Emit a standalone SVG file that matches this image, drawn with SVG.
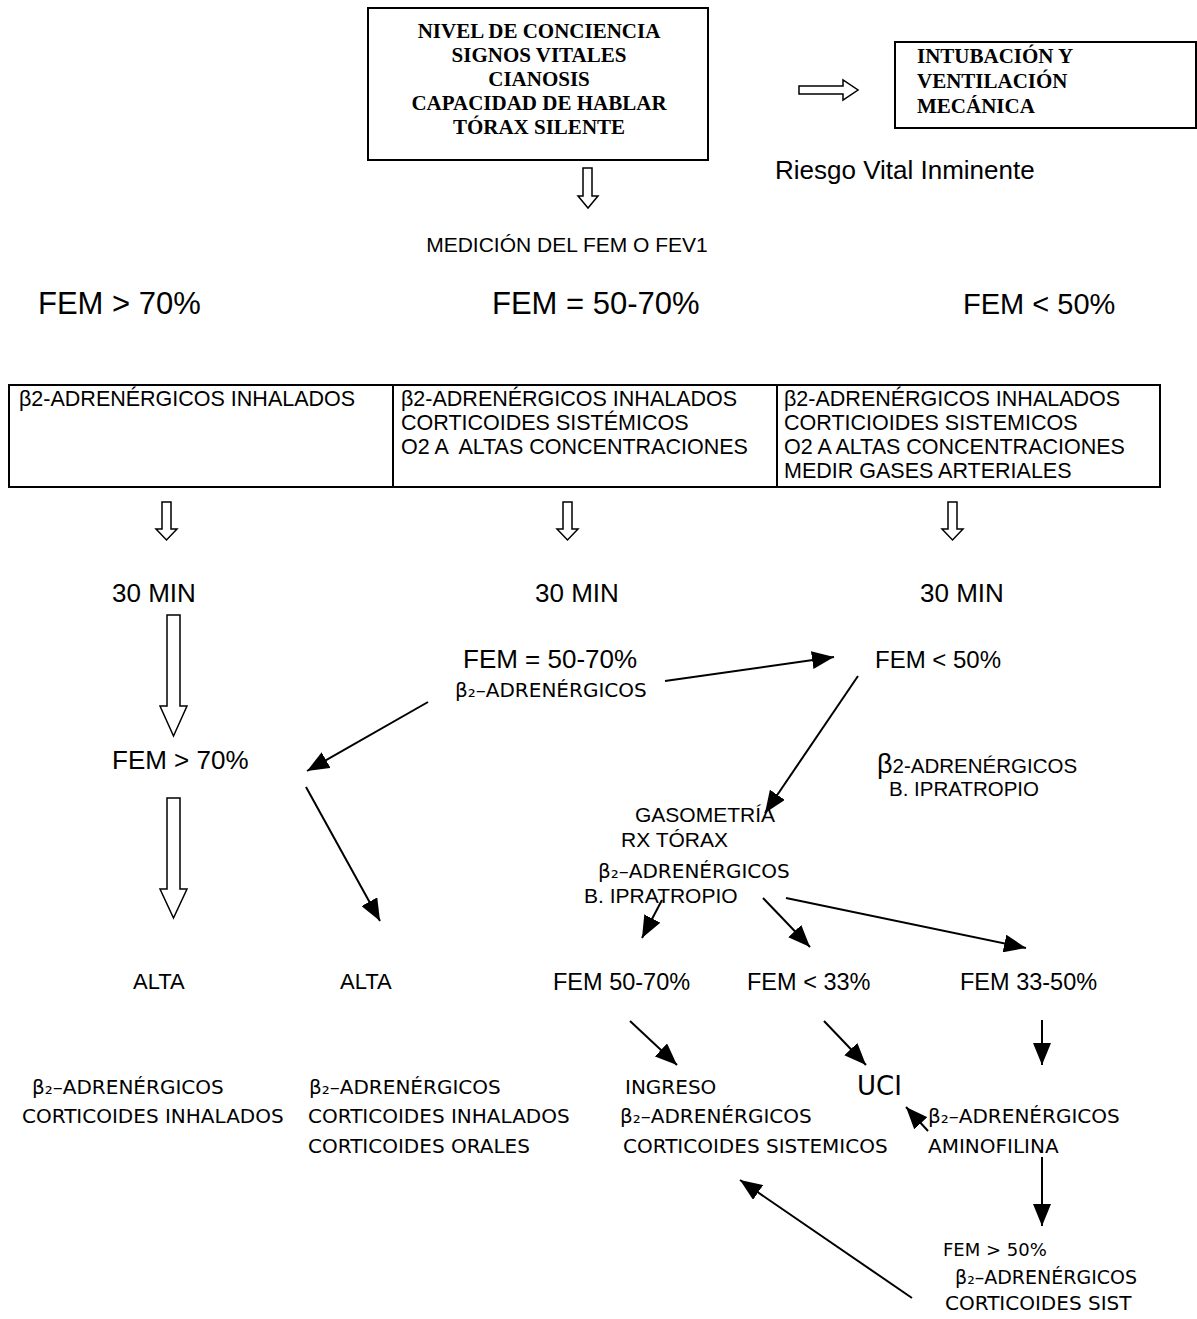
<svg xmlns="http://www.w3.org/2000/svg" width="1197" height="1319" viewBox="0 0 1197 1319">
<style>
.tb{font-family:"Liberation Serif",serif;font-weight:bold;font-size:21px;fill:#000}
.a{font-family:"Liberation Sans",Arial,sans-serif;fill:#000}
.l{font-family:"DejaVu Sans",sans-serif;fill:#000;font-size:20px}
.box{fill:none;stroke:#000;stroke-width:2}
.ho{fill:#fff;stroke:#000;stroke-width:1.5}
.cn line{stroke:#000;stroke-width:2}
</style>
<defs>
<marker id="ah" markerUnits="userSpaceOnUse" markerWidth="22" markerHeight="18" refX="22" refY="9" orient="auto">
<path d="M0,0 L22,9 L0,18 z" fill="#000"/>
</marker>
</defs>

<g id="n-eval">
<rect class="box" x="368" y="8" width="340" height="152"/>
<text class="tb" text-anchor="middle" x="539" y="38">NIVEL DE CONCIENCIA</text>
<text class="tb" text-anchor="middle" x="539" y="62">SIGNOS VITALES</text>
<text class="tb" text-anchor="middle" x="539" y="86">CIANOSIS</text>
<text class="tb" text-anchor="middle" x="539" y="110">CAPACIDAD DE HABLAR</text>
<text class="tb" text-anchor="middle" x="539" y="134">TÓRAX SILENTE</text>
</g>

<g id="n-intub">
<rect class="box" x="895" y="42" width="301" height="86"/>
<text class="tb" x="917" y="63">INTUBACIÓN Y</text>
<text class="tb" x="917" y="88">VENTILACIÓN</text>
<text class="tb" x="917" y="113">MECÁNICA</text>
</g>

<g id="n-riesgo"><text class="a" font-size="26" x="775" y="179">Riesgo Vital Inminente</text></g>
<g id="n-medicion"><text class="a" font-size="21" text-anchor="middle" x="567" y="252">MEDICIÓN DEL FEM O FEV1</text></g>

<g id="n-fem70"><text class="a" font-size="31" x="38" y="314">FEM &gt; 70%</text></g>
<g id="n-fem5070"><text class="a" font-size="31" x="492" y="314">FEM = 50-70%</text></g>
<g id="n-fem50"><text class="a" font-size="29" x="963" y="314">FEM &lt; 50%</text></g>

<g id="n-table" font-size="21.5" class="a">
<rect class="box" x="9" y="385" width="1151" height="102"/>
<line x1="393" y1="385" x2="393" y2="487" stroke="#000" stroke-width="2"/>
<line x1="777" y1="385" x2="777" y2="487" stroke="#000" stroke-width="2"/>
<text class="a" x="19" y="406">β2-ADRENÉRGICOS INHALADOS</text>
<text class="a" x="401" y="406">β2-ADRENÉRGICOS INHALADOS</text>
<text class="a" x="401" y="430">CORTICOIDES SISTÉMICOS</text>
<text class="a" x="401" y="454" xml:space="preserve">O2 A  ALTAS CONCENTRACIONES</text>
<text class="a" x="784" y="406">β2-ADRENÉRGICOS INHALADOS</text>
<text class="a" x="784" y="430">CORTICIOIDES SISTEMICOS</text>
<text class="a" x="784" y="454">O2 A ALTAS CONCENTRACIONES</text>
<text class="a" x="784" y="478">MEDIR GASES ARTERIALES</text>
</g>

<g id="n-30a"><text class="a" font-size="26" x="112" y="602">30 MIN</text></g>
<g id="n-30b"><text class="a" font-size="26" x="535" y="602">30 MIN</text></g>
<g id="n-30c"><text class="a" font-size="26" x="920" y="602">30 MIN</text></g>

<g id="n-fem5070b">
<text class="a" font-size="26" x="463" y="668">FEM = 50-70%</text>
<text class="l" x="455" y="697">β₂–ADRENÉRGICOS</text>
</g>
<g id="n-fem50b">
<text class="a" font-size="24" x="875" y="668">FEM &lt; 50%</text>
<text class="a" font-size="20.5" x="877" y="773"><tspan font-size="27">β</tspan>2-ADRENÉRGICOS</text>
<text class="a" font-size="20.5" x="889" y="796">B. IPRATROPIO</text>
</g>
<g id="n-fem70b"><text class="a" font-size="26" x="112" y="769">FEM &gt; 70%</text></g>

<g id="n-gaso">
<text class="a" font-size="21" x="635" y="822">GASOMETRÍA</text>
<text class="a" font-size="21" x="621" y="847">RX TÓRAX</text>
<text class="l" x="598" y="878">β₂–ADRENÉRGICOS</text>
<text class="a" font-size="21" x="584" y="903">B. IPRATROPIO</text>
</g>

<g id="n-alta1"><text class="a" font-size="22" x="133" y="989">ALTA</text></g>
<g id="n-alta2"><text class="a" font-size="22" x="340" y="989">ALTA</text></g>
<g id="n-f5070c"><text class="a" font-size="23.5" x="553" y="990">FEM 50-70%</text></g>
<g id="n-f33"><text class="a" font-size="23.5" x="747" y="990">FEM &lt; 33%</text></g>
<g id="n-f3350"><text class="a" font-size="23.5" x="960" y="990">FEM 33-50%</text></g>

<g id="n-b1">
<text class="l" x="32" y="1094">β₂–ADRENÉRGICOS</text>
<text class="l" x="22" y="1123">CORTICOIDES INHALADOS</text>
</g>
<g id="n-b2">
<text class="l" x="309" y="1094">β₂–ADRENÉRGICOS</text>
<text class="l" x="308" y="1123">CORTICOIDES INHALADOS</text>
<text class="l" x="308" y="1153">CORTICOIDES ORALES</text>
</g>
<g id="n-ingreso">
<text class="l" x="625" y="1094">INGRESO</text>
<text class="l" x="620" y="1123">β₂–ADRENÉRGICOS</text>
<text class="l" x="623" y="1153">CORTICOIDES SISTEMICOS</text>
</g>
<g id="n-uci"><text class="l" style="font-size:26px" x="857" y="1095">UCI</text></g>
<g id="n-amino">
<text class="l" x="928" y="1123">β₂–ADRENÉRGICOS</text>
<text class="l" x="928" y="1153">AMINOFILINA</text>
</g>
<g id="n-fem50up">
<text class="l" style="font-size:18px" x="943" y="1256">FEM &gt; 50%</text>
<text class="l" style="font-size:19px" x="955" y="1284">β₂–ADRENÉRGICOS</text>
<text class="l" x="945" y="1310">CORTICOIDES SIST</text>
</g>

<g id="connectors">
<g id="hollow">
<polygon class="ho" points="799,86 843,86 843,80 858,90 843,100 843,94 799,94"/>
<polygon class="ho" points="583,168 592,168 592,196 598,196 588,208 578,196 583,196"/>
<polygon class="ho" points="162,502 171,502 171,529 177,529 166.5,540 156,529 162,529"/>
<polygon class="ho" points="563,502 572,502 572,529 578,529 567.5,540 557,529 563,529"/>
<polygon class="ho" points="948,502 957,502 957,529 963,529 952.5,540 942,529 948,529"/>
<polygon class="ho" points="167,615 180,615 180,706 187,706 173.5,736 160,706 167,706"/>
<polygon class="ho" points="167,798 180,798 180,889 187,889 173.5,918 160,889 167,889"/>
</g>
<g class="cn">
<line x1="665" y1="681" x2="834" y2="657" marker-end="url(#ah)"/>
<line x1="428" y1="702" x2="307" y2="771" marker-end="url(#ah)"/>
<line x1="306" y1="787" x2="380" y2="921" marker-end="url(#ah)"/>
<line x1="858" y1="676" x2="765" y2="813" marker-end="url(#ah)"/>
<line x1="662" y1="900" x2="642" y2="938" marker-end="url(#ah)"/>
<line x1="763" y1="898" x2="810" y2="947" marker-end="url(#ah)"/>
<line x1="786" y1="898" x2="1026" y2="948" marker-end="url(#ah)"/>
<line x1="630" y1="1021" x2="677" y2="1065" marker-end="url(#ah)"/>
<line x1="824" y1="1021" x2="866" y2="1065" marker-end="url(#ah)"/>
<line x1="1042" y1="1020" x2="1042" y2="1065" marker-end="url(#ah)"/>
<line x1="928" y1="1131" x2="906" y2="1107" marker-end="url(#ah)"/>
<line x1="1042" y1="1157" x2="1042" y2="1226" marker-end="url(#ah)"/>
<line x1="912" y1="1298" x2="740" y2="1180" marker-end="url(#ah)"/>
</g>
</g>
</svg>
